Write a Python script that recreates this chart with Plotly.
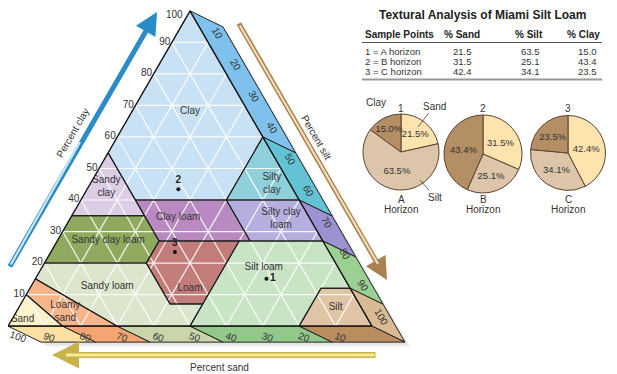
import math
import plotly.graph_objects as go

FONT = "Liberation Sans, Arial, sans-serif"
# the page body has an 8px margin; the figure is sized so it fits the 617x374 window
OX, OY = 8, 8
FW, FH = 609, 366


def px(X):
    return (X - OX) / FW


def py(Y):
    return 1 - (Y - OY) / FH


# ---------------- sample data ----------------
sample_ids = ["1", "2", "3"]
sample_rows = ["1 = A horizon", "2 = B horizon", "3 = C horizon"]
sand_pct = [21.5, 31.5, 42.4]
silt_pct = [63.5, 25.1, 34.1]
clay_pct = [15.0, 43.4, 23.5]
horizon_letters = ["A", "B", "C"]
table_headers = ["Sample Points", "% Sand", "% Silt", "% Clay"]
pie_fractions = ["Sand", "Silt", "Clay"]
pie_colors = ["#FDE3AE", "#DCC5A8", "#B48E65"]

# ---------------- texture classes: vertices (clay, sand) ----------------
class_names = ["Clay", "Sandy<br>clay", "Silty<br>clay", "Clay loam", "Silty clay<br>loam",
               "Sandy clay loam", "Loam", "Silt loam", "Sandy loam", "Loamy<br>sand", "Sand", "Silt"]
class_vertices = [
    [(40, 45), (40, 20), (60, 0), (100, 0), (55, 45)],
    [(35, 65), (35, 45), (55, 45)],
    [(40, 0), (60, 0), (40, 20)],
    [(27, 45), (27, 20), (40, 20), (40, 45)],
    [(27, 20), (27, 0), (40, 0), (40, 20)],
    [(20, 80), (20, 52), (27, 45), (35, 45), (35, 65)],
    [(7, 43), (7, 52), (20, 52), (27, 45), (27, 23)],
    [(0, 50), (0, 20), (12, 8), (12, 0), (27, 0), (27, 23), (7, 43)],
    [(15, 85), (0, 70), (0, 50), (7, 43), (7, 52), (20, 52), (20, 80)],
    [(0, 85), (0, 70), (15, 85), (10, 90)],
    [(0, 100), (0, 85), (10, 90)],
    [(0, 20), (0, 0), (12, 0), (12, 8)],
]
class_colors = ["#C9E1F4", "#DCCDE5", "#8FD0DB", "#B98AC2", "#B4AFDE", "#8FAA5F",
                "#C27D7A", "#C9E4C5", "#DCE6CD", "#F7B58C", "#FDF2CA", "#DFC4A5"]
class_label_clay = [68, 44, 45, 34.5, 34, 27, 12, 18.5, 12.5, 4.5, 2, 6]
class_label_sand = [16, 51, 5, 36, 8, 59, 44, 20.5, 66.5, 82, 95, 7]

# ---------------- side faces of the raised triangle ----------------
right_face_clay = [100, 60, 40, 27, 12, 0]
right_face_colors = ["#7DC1EC", "#63C3D5", "#9C92D1", "#9AD092", "#D9BA93"]
bottom_face_sand = [100, 85, 70, 50, 20, 0]
bottom_face_colors = ["#FCE0A2", "#F4A572", "#CAD5AA", "#92C98A", "#B98D5E"]
FACE_DX_PX, FACE_DY_PX = 33, 16

grid_values = [10, 20, 30, 40, 50, 60, 70, 80, 90]
tick_values = [10, 20, 30, 40, 50, 60, 70, 80, 90, 100]
corner_tick = 100

# ---------------- ternary placement (same arithmetic plotly uses) ----------------
tern_dom_x = [px(8), px(372)]
tern_dom_y = [py(327), py(10)]
w_over_h = 2 / math.sqrt(3)
wmax = (tern_dom_x[1] - tern_dom_x[0]) * FW
hmax = (tern_dom_y[1] - tern_dom_y[0]) * FH
if wmax > w_over_h * hmax:
    th = hmax
    tw = th * w_over_h
else:
    tw = wmax
    th = tw / w_over_h
tx0 = FW * (tern_dom_x[0] + tern_dom_x[1]) / 2 - tw / 2
ty0 = FH * (1 - (tern_dom_y[0] + tern_dom_y[1]) / 2) - th / 2
ux = tw / 200.0   # px per unit of (silt - sand)
uy = th / 100.0   # px per unit of clay
x_range = [-100 - tx0 / ux, -100 + (FW - tx0) / ux]
y_range = [(ty0 + th - FH) / uy, (ty0 + th) / uy]
fdx, fdy = FACE_DX_PX / ux, -FACE_DY_PX / uy

fig = go.Figure()

# soft shadow behind the raised triangle
for off, col in [(5, "#F1F1F1"), (3, "#E3E3E3")]:
    sx, sy = fdx + off / ux, fdy - off / uy
    fig.add_trace(go.Scatter(x=[-100 + sx, 100 + sx, 0 + sx, -100 + sx],
                             y=[0 + sy, 0 + sy, 100 + sy, 0 + sy],
                             mode="lines", fill="toself", fillcolor=col, line=dict(width=0, color=col),
                             hoverinfo="skip", showlegend=False))

# side faces (cartesian overlay sharing the ternary's scale)
for i, col in enumerate(right_face_colors):
    c1, c2 = right_face_clay[i], right_face_clay[i + 1]
    xs = [100 - c1, 100 - c2, 100 - c2 + fdx, 100 - c1 + fdx, 100 - c1]
    ys = [c1, c2, c2 + fdy, c1 + fdy, c1]
    fig.add_trace(go.Scatter(x=xs, y=ys, mode="lines", fill="toself", fillcolor=col,
                             line=dict(color="#222", width=1), hoverinfo="skip", showlegend=False))
for i, col in enumerate(bottom_face_colors):
    s1, s2 = bottom_face_sand[i], bottom_face_sand[i + 1]
    xs = [100 - 2 * s1, 100 - 2 * s2, 100 - 2 * s2 + fdx, 100 - 2 * s1 + fdx, 100 - 2 * s1]
    ys = [0, 0, fdy, fdy, 0]
    fig.add_trace(go.Scatter(x=xs, y=ys, mode="lines", fill="toself", fillcolor=col,
                             line=dict(color="#222", width=1), hoverinfo="skip", showlegend=False))


def tern(clay_list, sand_list):
    return clay_list, sand_list, [100 - c - s for c, s in zip(clay_list, sand_list)]


# class fills
for verts, col in zip(class_vertices, class_colors):
    cl = [v[0] for v in verts] + [verts[0][0]]
    sa = [v[1] for v in verts] + [verts[0][1]]
    a, b, c = tern(cl, sa)
    fig.add_trace(go.Scatterternary(a=a, b=b, c=c, mode="lines", fill="toself",
                                    fillcolor=col, line=dict(width=0, color=col),
                                    hoverinfo="skip", showlegend=False))

# white grid
for g in grid_values:
    for a, b, c in [([g, g], [100 - g, 0], [0, 100 - g]),
                    ([100 - g, 0], [g, g], [0, 100 - g]),
                    ([100 - g, 0], [0, 100 - g], [g, g])]:
        fig.add_trace(go.Scatterternary(a=a, b=b, c=c, mode="lines",
                                        line=dict(color="rgba(255,255,255,0.9)", width=1.2),
                                        hoverinfo="skip", showlegend=False))

# class outlines
for verts in class_vertices:
    cl = [v[0] for v in verts] + [verts[0][0]]
    sa = [v[1] for v in verts] + [verts[0][1]]
    a, b, c = tern(cl, sa)
    fig.add_trace(go.Scatterternary(a=a, b=b, c=c, mode="lines",
                                    line=dict(color="#1a1a1a", width=1.1),
                                    hoverinfo="skip", showlegend=False))

# class labels
la, lb, lc = tern(class_label_clay, class_label_sand)
fig.add_trace(go.Scatterternary(a=la, b=lb, c=lc, mode="text", text=class_names,
                                textfont=dict(family=FONT, size=10, color="#333"),
                                hoverinfo="skip", showlegend=False))

# sample points
fig.add_trace(go.Scatterternary(a=clay_pct, b=sand_pct, c=silt_pct, mode="markers+text",
                                text=["<b>%s</b>" % s for s in sample_ids],
                                textposition=["middle right", "top center", "top center"],
                                textfont=dict(family=FONT, size=10, color="#222"),
                                marker=dict(color="#111", size=4),
                                hoverinfo="skip", showlegend=False))

inner_ticks = [t for t in tick_values if t != corner_tick]
axis_common = dict(showgrid=False, showline=True, linecolor="#111",
                   linewidth=1.2, tickfont=dict(family=FONT, size=10, color="#333"),
                   title=dict(text=""), min=0)

fig.update_layout(
    ternary=dict(
        sum=100,
        domain=dict(x=tern_dom_x, y=tern_dom_y),
        bgcolor="rgba(0,0,0,0)",
        aaxis=dict(**axis_common, tickvals=inner_ticks, ticks=""),
        baxis=dict(**axis_common, tickvals=inner_ticks, tickangle=20, ticks=""),
        caxis=dict(**axis_common, tickvals=tick_values, tickangle=60, ticks="outside",
                   ticklen=4, tickcolor="rgba(0,0,0,0)"),
    ),
    xaxis=dict(domain=[0, 1], range=x_range, visible=False, fixedrange=True),
    yaxis=dict(domain=[0, 1], range=y_range, visible=False, fixedrange=True),
)

# ---------------- pies ----------------
pie_centers = [(401, 152), (483, 154), (568, 153)]
pie_radius = [38, 39, 37.5]
for k in range(3):
    cx, cy = pie_centers[k]
    r = pie_radius[k]
    fig.add_trace(go.Pie(
        values=[sand_pct[k], silt_pct[k], clay_pct[k]], labels=pie_fractions,
        sort=False, direction="clockwise", rotation=0,
        marker=dict(colors=pie_colors, line=dict(color="#5C4330", width=1)),
        texttemplate="%{value:.1f}%", textposition="inside", insidetextorientation="horizontal",
        textfont=dict(family=FONT, size=9.5, color="#333"),
        domain=dict(x=[px(cx - r), px(cx + r)], y=[py(cy + r), py(cy - r)]),
        showlegend=False, hoverinfo="skip"))

ann = []


def txt(x, y, s, size=10, bold=False, anchor="center", color="#222", angle=0):
    ann.append(dict(x=px(x), y=py(y), xref="paper", yref="paper",
                    text=("<b>%s</b>" % s) if bold else s,
                    showarrow=False, xanchor=anchor, yanchor="middle", textangle=angle,
                    font=dict(family=FONT, size=size, color=color)))


# corner tick labels of the clay and sand scales
txt(174, 14, str(corner_tick), size=10, color="#333")
txt(18, 336, str(corner_tick), size=10, color="#333", angle=20)

# table
txt(482, 15, "Textural Analysis of Miami Silt Loam", size=12, bold=True)
txt(363, 35, table_headers[0], size=10, bold=True, anchor="left")
txt(462, 35, table_headers[1], size=10, bold=True)
txt(529, 35, table_headers[2], size=10, bold=True)
txt(602, 35, table_headers[3], size=10, bold=True, anchor="right")
row_y = [51, 62, 72]
for k in range(3):
    txt(363, row_y[k], sample_rows[k], size=9.5, anchor="left", color="#333")
    txt(462, row_y[k], "%.1f" % sand_pct[k], size=9.5, color="#333")
    txt(530, row_y[k], "%.1f" % silt_pct[k], size=9.5, color="#333")
    txt(599, row_y[k], "%.1f" % clay_pct[k], size=9.5, anchor="right", color="#333")

shapes = [
    dict(type="line", xref="paper", yref="paper", x0=px(362), x1=px(602), y0=py(42.5), y1=py(42.5),
         line=dict(color="#555", width=1)),
    dict(type="line", xref="paper", yref="paper", x0=px(362), x1=px(602), y0=py(79.5), y1=py(79.5),
         line=dict(color="#999", width=2)),
]

# pie labels
for k in range(3):
    cx = pie_centers[k][0]
    txt(cx, 108, sample_ids[k], size=10, color="#333")
    txt(cx, 199, horizon_letters[k], size=10, color="#333")
    txt(cx, 210, "Horizon", size=10, color="#333")
txt(376, 102, "Clay", size=10, color="#333")


def leader(hx, hy, tx, ty, s):
    ann.append(dict(x=px(hx), y=py(hy), xref="paper", yref="paper", text=s, showarrow=True,
                    arrowhead=0, arrowwidth=0.8, arrowcolor="#444", ax=tx - hx, ay=ty - hy,
                    font=dict(family=FONT, size=10, color="#333")))


leader(418, 127, 434, 106, "Sand")
leader(420, 180, 435, 197, "Silt")


# axis arrows
def arrow(hx, hy, tx, ty, color, width, head=2, size=0.9):
    ann.append(dict(x=px(hx), y=py(hy), xref="paper", yref="paper", text="", showarrow=True,
                    arrowhead=head, arrowsize=size, arrowwidth=width, arrowcolor=color,
                    ax=tx - hx, ay=ty - hy, standoff=0, startstandoff=0))


arrow(157, 12, 9, 268, "#2A8CC6", 5)
arrow(80, 142, 10, 266, "#CDE5F5", 2.2, head=0)
arrow(387, 280, 238, 22, "#A9814F", 5)
arrow(378, 264, 239, 24, "#EEDDBB", 2.2, head=0)
arrow(52, 355, 377, 355, "#C8B24A", 6)
arrow(66, 355, 376, 355, "#F8EC98", 3, head=0)
txt(72, 133, "Percent clay", size=10, color="#333", angle=-60)
txt(316, 138, "Percent silt", size=10, color="#333", angle=60)
txt(219, 367, "Percent sand", size=10, color="#333")

fig.update_layout(width=FW, height=FH, margin=dict(l=0, r=0, t=0, b=0),
                  paper_bgcolor="white", plot_bgcolor="rgba(0,0,0,0)",
                  annotations=ann, shapes=shapes, showlegend=False,
                  uniformtext=dict(minsize=9.5, mode="show"),
                  font=dict(family=FONT))

fig.write_html("out.html")
